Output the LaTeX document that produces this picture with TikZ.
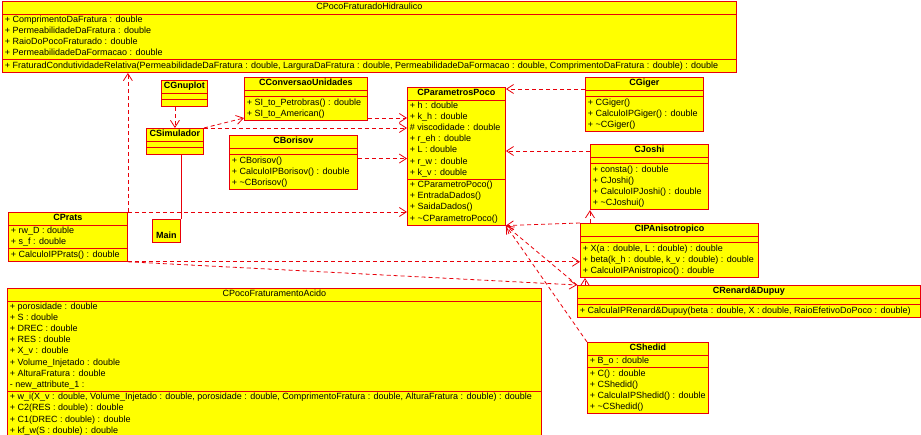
\documentclass[tikz,border=0pt]{standalone}
\usepackage{fontspec}
\setmainfont{Liberation Sans}
\usetikzlibrary{shapes.multipart,arrows.meta}
\definecolor{roseyellow}{HTML}{FFFF00}
\definecolor{rosered}{HTML}{E8000A}
\tikzset{
  umlclass/.style={rectangle split, rectangle split parts=3, draw=rosered, fill=roseyellow,
    line width=0.9pt, anchor=north west, align=left, inner xsep=2.5pt, inner ysep=0.3pt,
    rectangle split part align={center,left,left},
    rectangle split empty part height=4.4pt, rectangle split empty part depth=0pt,
    font=\fontsize{9}{11.1}\selectfont, minimum width=#1},
  dep/.style={draw=rosered, line width=0.8pt, dash pattern=on 4pt off 3pt,
    -{Straight Barb[length=7pt,width=9pt]}},
}
\begin{document}
\begin{tikzpicture}[x=1pt,y=-1pt]
  \useasboundingbox (0,0) rectangle (921,435);
  % classes
  \node[umlclass=734] (hidr) at (2,1) {\strut CPocoFraturadoHidraulico
    \nodepart{two}\strut+ ComprimentoDaFratura : double\\\strut+ PermeabilidadeDaFratura : double\\
      \strut+ RaioDoPocoFraturado : double\\\strut+ PermeabilidadeDaFormacao : double
    \nodepart{three}\strut+ FraturadCondutividadeRelativa(PermeabilidadeDaFratura : double, LarguraDaFratura : double, PermeabilidadeDaFormacao : double, ComprimentoDaFratura : double) : double};
  \node[umlclass=45] (gnuplot) at (161,80) {\strut\textbf{CGnuplot}\nodepart{two}\nodepart{three}};
  \node[umlclass=57] (simul) at (146,128) {\strut\textbf{CSimulador}\nodepart{two}\nodepart{three}};
  \node[draw=rosered, fill=roseyellow, line width=0.9pt, anchor=north west, minimum width=28,
    minimum height=23, inner ysep=2.75pt, text height=16pt, text depth=1.5pt,
    font=\fontsize{9}{11.1}\selectfont\bfseries] (main) at (152,219) {Main};
  \node[umlclass=123] (conv) at (244,77) {\strut\textbf{CConversaoUnidades}\nodepart{two}
    \nodepart{three}\strut+ SI\_to\_Petrobras() : double\\\strut+ SI\_to\_American()};
  \node[umlclass=128] (boris) at (229,135) {\strut\textbf{CBorisov}\nodepart{two}
    \nodepart{three}\strut+ CBorisov()\\\strut+ CalculoIPBorisov() : double\\\strut+ \textasciitilde CBorisov()};
  \node[umlclass=98] (params) at (407,87) {\strut\textbf{CParametrosPoco}
    \nodepart{two}\strut+ h : double\\\strut+ k\_h : double\\\strut\# viscodidade : double\\\strut+ r\_eh : double\\
      \strut+ L : double\\\strut+ r\_w : double\\\strut+ k\_v : double
    \nodepart{three}\strut+ CParametroPoco()\\\strut+ EntradaDados()\\\strut+ SaidaDados()\\\strut+ \textasciitilde CParametroPoco()};
  \node[umlclass=118] (giger) at (585,77) {\strut\textbf{CGiger}\nodepart{two}
    \nodepart{three}\strut+ CGiger()\\\strut+ CalculoIPGiger() : double\\\strut+ \textasciitilde CGiger()};
  \node[umlclass=118] (joshi) at (590,144) {\strut\textbf{CJoshi}\nodepart{two}
    \nodepart{three}\strut+ consta() : double\\\strut+ CJoshi()\\\strut+ CalculoIPJoshi() : double\\\strut+ \textasciitilde CJoshui()};
  \node[umlclass=178] (anis) at (580,223) {\strut\textbf{CIPAnisotropico}\nodepart{two}
    \nodepart{three}\strut+ X(a : double, L : double) : double\\\strut+ beta(k\_h : double, k\_v : double) : double\\
      \strut+ CalculoIPAnistropico() : double};
  \node[umlclass=343] (renard) at (577,285) {\strut\textbf{CRenard\&Dupuy}\nodepart{two}
    \nodepart{three}\strut+ CalculaIPRenard\&Dupuy(beta : double, X : double, RaioEfetivoDoPoco : double)};
  \node[umlclass=119] (prats) at (8,212) {\strut\textbf{CPrats}
    \nodepart{two}\strut+ rw\_D : double\\\strut+ s\_f : double
    \nodepart{three}\strut+ CalculoIPPrats() : double};
  \node[umlclass=534] (acido) at (7,288) {\strut CPocoFraturamentoAcido
    \nodepart{two}\strut+ porosidade : double\\\strut+ S : double\\\strut+ DREC : double\\\strut+ RES : double\\
      \strut+ X\_v : double\\\strut+ Volume\_Injetado : double\\\strut+ AlturaFratura : double\\\strut- new\_attribute\_1 :
    \nodepart{three}\strut+ w\_i(X\_v : double, Volume\_Injetado : double, porosidade : double, ComprimentoFratura : double, AlturaFratura : double) : double\\
      \strut+ C2(RES : double) : double\\\strut+ C1(DREC : double) : double\\\strut+ kf\_w(S : double) : double};
  \node[umlclass=119] (shedid) at (587,342) {\strut\textbf{CShedid}
    \nodepart{two}\strut+ B\_o : double
    \nodepart{three}\strut+ C() : double\\\strut+ CShedid()\\\strut+ CalculaIPShedid() : double\\\strut+ \textasciitilde CShedid()};
  % connectors
  \draw[rosered, line width=0.8pt] (main.north east) -- (main.north east |- simul.south);
  \draw[dep] (simul.north |- gnuplot.south) -- (simul.north);
  \draw[dep] (simul.north east) -- ([yshift=3pt]conv.south west);
  \draw[dep] (simul.north east) -- (simul.north east -| params.west);
  \draw[dep] ([yshift=3pt]conv.south east) coordinate (c1) -- (c1 -| params.west);
  \draw[dep] ([yshift=4pt]boris.east) coordinate (b1) -- (b1 -| params.west);
  \draw[dep] (prats.north east) -- (prats.north east -| params.west);
  \draw[dep] (prats.north east) -- (prats.north east |- hidr.south);
  \draw[dep] (prats.south east) -- (prats.south east -| anis.west);
  \draw[dep] (prats.south east) -- (renard.north west);
  \draw[dep] ([yshift=-12pt]giger.north west) coordinate (g1) -- (g1 -| params.east);
  \draw[dep] ([yshift=-7pt]joshi.north west) coordinate (j1) -- (j1 -| params.east);
  \draw[dep] (joshi.south west |- anis.north) -- (joshi.south west);
  \draw[dep] (anis.north west) -- (params.south east);
  \draw[dep] ([xshift=8pt]renard.north west) coordinate (r1) -- (r1 |- anis.south);
  \draw[dep] (renard.north west) -- (params.south east);
  \draw[dep] (shedid.north west) -- (params.south east);
\end{tikzpicture}
\end{document}
